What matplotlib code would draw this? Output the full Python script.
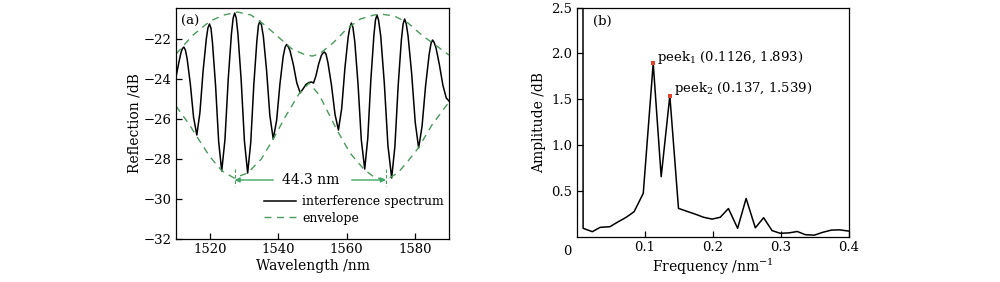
import matplotlib
matplotlib.use("Agg")
import matplotlib.pyplot as plt

plt.rcParams['font.family'] = ['DejaVu Serif']
plt.rcParams['mathtext.fontset'] = 'dejavuserif'
plt.rcParams['axes.unicode_minus'] = True

# ---- panel (a) data: interference spectrum ----
wl = [1510.0, 1510.8, 1511.5, 1511.9, 1512.3, 1512.75,
      1513.25, 1514.2, 1515.15, 1516.1,
      1517.0, 1517.95, 1518.9, 1519.35, 1519.8, 1520.25,
      1520.7, 1521.6, 1522.5, 1523.4,
      1524.35, 1525.3, 1526.25, 1526.75, 1527.2, 1527.65,
      1528.15, 1529.1, 1530.05, 1531.0,
      1531.9, 1532.8, 1533.7, 1534.15, 1534.6, 1535.05,
      1535.6, 1536.55, 1537.5, 1538.5,
      1539.5, 1540.45, 1541.4, 1541.95, 1542.4, 1542.85,
      1543.4, 1544.4, 1545.4, 1546.4,
      1547.2, 1548.1, 1549.0, 1549.7, 1550.3, 1551.0, 1551.8, 1552.6, 1553.05, 1553.5, 1553.95,
      1554.5, 1555.55, 1556.6, 1557.6,
      1558.55, 1559.5, 1560.45, 1560.95, 1561.4, 1561.85,
      1562.4, 1563.35, 1564.3, 1565.3,
      1566.2, 1567.1, 1568.0, 1568.45, 1568.9, 1569.35,
      1570.0, 1571.05, 1572.1, 1573.2,
      1574.15, 1575.1, 1576.05, 1576.55, 1577.0, 1577.45,
      1578.0, 1579.05, 1580.1, 1581.1,
      1582.1, 1583.15, 1584.2, 1584.75, 1585.2, 1585.65,
      1586.2, 1587.2, 1588.2, 1589.2, 1590.0]
refl = [-23.9, -23.2, -22.65, -22.47, -22.4, -22.55,
        -22.97, -24.25, -25.92, -26.8,
        -25.69, -23.58, -21.97, -21.45, -21.25, -21.45,
        -22.21, -24.34, -27.13, -28.6,
        -27.02, -24.02, -21.73, -20.95, -20.7, -20.95,
        -21.74, -24.06, -27.1, -28.7,
        -27.18, -24.29, -22.09, -21.32, -21.1, -21.3,
        -21.87, -23.58, -25.82, -27.0,
        -26.05, -24.26, -22.88, -22.42, -22.27, -22.37,
        -22.58, -23.29, -24.2, -24.69,
        -24.5, -24.27, -24.17, -24.15, -24.2, -23.85, -23.25, -22.82, -22.7, -22.65, -22.75,
        -23.16, -24.29, -25.77, -26.55,
        -25.48, -23.45, -21.9, -21.42, -21.2, -21.42,
        -22.15, -24.27, -27.04, -28.5,
        -26.96, -24.03, -21.8, -21.05, -20.8, -21.05,
        -21.86, -24.22, -27.32, -28.95,
        -27.36, -24.34, -22.03, -21.25, -21.0, -21.22,
        -21.84, -23.71, -26.16, -27.45,
        -26.37, -24.32, -22.75, -22.2, -22.05, -22.17,
        -22.45, -23.3, -24.3, -24.95, -25.1]

env_up_x = [1510, 1515, 1520, 1524, 1528, 1532, 1536, 1540, 1544, 1548, 1550,
            1552, 1556, 1560, 1564, 1568, 1570, 1574, 1578, 1582, 1586, 1590]
env_up_y = [-22.75, -21.8, -21.1, -20.8, -20.65, -20.8, -21.3, -21.9, -22.5, -22.8, -22.85,
            -22.75, -22.2, -21.5, -21.0, -20.8, -20.75, -20.85, -21.2, -21.8, -22.3, -22.8]
env_lo_x = [1510, 1514, 1516, 1520, 1523.5, 1527, 1531, 1535, 1538.5, 1542, 1546, 1549,
            1552, 1557, 1561, 1565, 1568, 1571.5, 1575, 1578, 1581, 1585, 1590]
env_lo_y = [-25.35, -26.3, -26.85, -27.9, -28.6, -28.95, -28.7, -28.0, -27.0, -25.9, -24.75, -24.2,
            -24.8, -26.5, -27.7, -28.5, -28.9, -29.05, -28.7, -28.1, -27.45, -26.3, -25.15]

span_left, span_right = 1527.2, 1571.5
span_label = "44.3 nm"

# ---- panel (b) data: FFT amplitude ----
freq = [0.0095, 0.0097, 0.0232, 0.0346, 0.049, 0.0615, 0.073, 0.0846, 0.098, 0.1126,
        0.1243, 0.137, 0.1497, 0.162, 0.174, 0.1865, 0.199, 0.211, 0.223, 0.2365,
        0.249, 0.2625, 0.2747, 0.287, 0.299, 0.312, 0.324, 0.336, 0.349, 0.361,
        0.374, 0.386, 0.399]
amp = [2.8, 0.095, 0.058, 0.105, 0.112, 0.167, 0.215, 0.276, 0.476, 1.893,
       0.657, 1.539, 0.312, 0.28, 0.25, 0.215, 0.195, 0.215, 0.31, 0.095,
       0.42, 0.1, 0.21, 0.07, 0.04, 0.045, 0.06, 0.025, 0.02, 0.05,
       0.075, 0.078, 0.065]
peaks_f = [0.1126, 0.137]
peaks_a = [1.893, 1.539]
peak_labels = [r"peek$_1$ (0.1126, 1.893)", r"peek$_2$ (0.137, 1.539)"]

green_env = '#4a9a5c'
green_arrow = '#3fa565'
fs = 9.5

fig = plt.figure(figsize=(10, 2.82), dpi=100)
ax1 = fig.add_axes([0.176, 0.1525, 0.273, 0.819])
ax2 = fig.add_axes([0.5765, 0.1596, 0.2725, 0.8134])

for ax in (ax1, ax2):
    ax.tick_params(direction='in', length=4, width=0.9, labelsize=fs, pad=3)
    for s in ax.spines.values():
        s.set_linewidth(0.9)

# panel (a)
ax1.plot(wl, refl, color='black', lw=1.1, solid_joinstyle='round',
         label='interference spectrum')
ax1.plot(env_up_x, env_up_y, color=green_env, lw=1.0, ls=(0, (5, 4)), label='envelope')
ax1.plot(env_lo_x, env_lo_y, color=green_env, lw=1.0, ls=(0, (5, 4)))
ax1.set_xlim(1510, 1590)
ax1.set_ylim(-32, -20.45)
ax1.set_xticks([1520, 1540, 1560, 1580])
ax1.set_yticks([-32, -30, -28, -26, -24, -22])
ax1.set_xlabel('Wavelength /nm', fontsize=fs + 0.5, labelpad=2)
ax1.set_ylabel('Reflection /dB', fontsize=fs + 0.5, labelpad=2)
ax1.text(0.02, 0.94, '(a)', transform=ax1.transAxes, fontsize=fs, va='center', ha='left')

ax1.plot([span_left, span_left], [-28.5, -29.35], color=green_env, lw=0.8, ls=(0, (3, 2)))
ax1.plot([span_right, span_right], [-28.5, -29.35], color=green_env, lw=0.8, ls=(0, (3, 2)))
ax1.annotate('', xy=(span_left, -29.05), xytext=(1538.5, -29.05),
             arrowprops=dict(arrowstyle='-|>', color=green_arrow, lw=1.0,
                             mutation_scale=7, shrinkA=0, shrinkB=0))
ax1.annotate('', xy=(span_right, -29.05), xytext=(1561.5, -29.05),
             arrowprops=dict(arrowstyle='-|>', color=green_arrow, lw=1.0,
                             mutation_scale=7, shrinkA=0, shrinkB=0))
ax1.text((span_left + span_right) / 2, -29.05, span_label, fontsize=fs + 0.5,
         ha='center', va='center')

ax1.legend(loc='lower right', bbox_to_anchor=(1.0, 0.04), frameon=False, fontsize=9,
           handlelength=2.6, handletextpad=0.5, labelspacing=0.3, borderpad=0.2,
           borderaxespad=0.2)

# panel (b)
ax2.plot(freq, amp, color='black', lw=1.1)
ax2.plot(peaks_f, peaks_a, 's', color='#e0452c', ms=2.2, mew=0)
ax2.set_xlim(0, 0.4)
ax2.set_ylim(0, 2.5)
ax2.set_xticks([0.1, 0.2, 0.3, 0.4])
ax2.set_xticklabels(['0.1', '0.2', '0.3', '0.4'])
ax2.set_yticks([0.5, 1.0, 1.5, 2.0, 2.5])
ax2.set_xlabel(r'Frequency /nm$^{-1}$', fontsize=fs + 0.5, labelpad=2)
ax2.set_ylabel('Amplitude /dB', fontsize=fs + 0.5, labelpad=4)
ax2.text(-0.035, -0.035, '0', transform=ax2.transAxes, fontsize=fs, ha='center', va='top')
ax2.text(0.06, 0.94, '(b)', transform=ax2.transAxes, fontsize=fs, va='center', ha='left')
ax2.text(0.1188, 1.96, peak_labels[0], fontsize=fs, ha='left', va='center')
ax2.text(0.1438, 1.62, peak_labels[1], fontsize=fs, ha='left', va='center')

fig.savefig('out.png', dpi=100)
